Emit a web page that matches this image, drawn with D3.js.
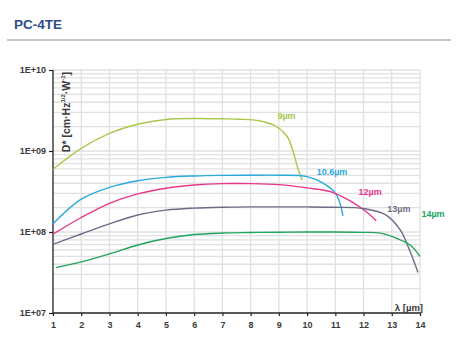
<!DOCTYPE html>
<html><head><meta charset="utf-8">
<script src="https://cdn.jsdelivr.net/npm/d3@7"></script>
<style>
html,body{margin:0;padding:0;background:#fff;}
svg{display:block;font-family:"Liberation Sans",Arial,sans-serif;}
</style></head>
<body>
<svg id="c" width="468" height="356"></svg>
<script>
const title = "PC-4TE";
const xTicks = [1,2,3,4,5,6,7,8,9,10,11,12,13,14];
const yTicks = [1e7, 1e8, 1e9, 1e10];
const yTickLabels = ["1E+07","1E+08","1E+09","1E+10"];
const seriesNames = ["9µm","10.6µm","12µm","13µm","14µm"];
const seriesColors = ["#a9c84c","#2aa9df","#e8378b","#6c6b86","#21a35d"];

const lam9  = [1, 2, 3, 4, 5, 6, 7, 7.6, 8.3, 8.9, 9.3, 9.5, 9.68, 9.82];
const d9    = [5.95e8, 1.08e9, 1.65e9, 2.14e9, 2.45e9, 2.52e9, 2.5e9, 2.47e9, 2.36e9, 2.02e9, 1.5e9, 1.0e9, 6.0e8, 4.4e8];
const lam106 = [1, 2, 3, 4, 5, 6, 7, 8, 9, 10, 10.58, 11, 11.17, 11.27];
const d106   = [1.26e8, 2.54e8, 3.56e8, 4.3e8, 4.73e8, 4.92e8, 5.0e8, 5.02e8, 5.02e8, 4.82e8, 3.98e8, 3.02e8, 2.24e8, 1.58e8];
const lam12 = [1, 2, 3, 4, 5, 6, 7, 8, 9, 10, 10.9, 11.6, 12.1, 12.45];
const d12   = [9.4e7, 1.51e8, 2.26e8, 2.95e8, 3.47e8, 3.8e8, 3.96e8, 3.96e8, 3.84e8, 3.5e8, 3.09e8, 2.34e8, 1.78e8, 1.38e8];
const lam13 = [1, 2, 3, 4, 5, 6, 7, 8, 9, 10, 11, 12, 12.8, 13.3, 13.65, 13.93];
const d13   = [7.05e7, 9.44e7, 1.26e8, 1.62e8, 1.86e8, 1.97e8, 2.02e8, 2.04e8, 2.04e8, 2.04e8, 2.02e8, 1.95e8, 1.62e8, 1.06e8, 5.75e7, 3.16e7];
const lam14 = [1.1, 2, 3, 4, 5, 6, 7, 8, 9, 10, 11, 12, 12.6, 13.2, 13.65, 14];
const d14   = [3.63e7, 4.27e7, 5.37e7, 6.92e7, 8.32e7, 9.3e7, 9.7e7, 9.85e7, 9.95e7, 1.0e8, 1.0e8, 9.9e7, 9.7e7, 8.3e7, 6.9e7, 5.0e7];

const lamSeries = [lam9, lam106, lam12, lam13, lam14];
const dSeries = [d9, d106, d12, d13, d14];
// label anchor in data coords (lambda, D*)
const labelLam = [8.95, 10.34, 11.82, 12.84, 14.05];
const labelD   = [2.5e9, 5.0e8, 2.9e8, 1.75e8, 1.55e8];

const svg = d3.select("#c");
const L = 53, R = 420, T = 70, B = 313;
const x = d3.scaleLinear().domain([1,14]).range([L,R]);
const y = d3.scaleLog().domain([1e7,1e10]).range([B,T]);

// title & rule
svg.append("text").attr("x",14).attr("y",28.5).text(title)
  .attr("font-size",13.5).attr("font-weight","bold").attr("fill","#2e4a8c");
svg.append("line").attr("x1",7).attr("x2",451).attr("y1",40).attr("y2",40)
  .attr("stroke","#c8c8c8").attr("stroke-width",2);

// grid
const g = svg.append("g");
const minor = [];
for (let e=7;e<10;e++) for (let m=2;m<=9;m++) minor.push(m*Math.pow(10,e));
g.selectAll("line.hm").data(minor.concat([1e8,1e9,1e10])).join("line")
  .attr("x1",L).attr("x2",R).attr("y1",d=>y(d)).attr("y2",d=>y(d))
  .attr("stroke","#e0e0e0").attr("stroke-width",1.3);
g.selectAll("line.v").data(xTicks.slice(1)).join("line")
  .attr("x1",d=>x(d)).attr("x2",d=>x(d)).attr("y1",T).attr("y2",B)
  .attr("stroke","#e0e0e0").attr("stroke-width",1.3);

// axes
const xAxis = d3.axisBottom(x).tickValues(xTicks).tickFormat(d3.format("d")).tickSize(3).tickPadding(6);
const yAxis = d3.axisLeft(y).tickValues(yTicks).tickFormat((d,i)=>yTickLabels[i]).tickSize(4).tickPadding(3);
const ax = svg.append("g").attr("transform",`translate(0,${B})`).call(xAxis);
const ay = svg.append("g").attr("transform",`translate(${L},0)`).call(yAxis);
[ax,ay].forEach(a=>{
  a.select(".domain").attr("stroke","#222").attr("stroke-width",1.3);
  a.selectAll(".tick line").attr("stroke","#222").attr("stroke-width",1.2);
  a.selectAll("text").attr("font-family","Liberation Sans, Arial, sans-serif")
    .attr("font-size",9).attr("font-weight","bold").attr("fill","#3a3a3a");
});
ax.select(".domain").attr("d",`M${L},0H${R}`);
ay.select(".domain").attr("d",`M0,${B}V${T}`);

// curves
const line = d3.line().x(d=>x(d[0])).y(d=>y(d[1])).curve(d3.curveCatmullRom.alpha(0.5));
seriesNames.forEach((n,i)=>{
  const pts = lamSeries[i].map((l,j)=>[l,dSeries[i][j]]);
  svg.append("path").attr("d",line(pts)).attr("fill","none")
    .attr("stroke",seriesColors[i]).attr("stroke-width",1.4);
  svg.append("text").attr("x",x(labelLam[i])).attr("y",y(labelD[i]))
    .attr("font-size",9).attr("font-weight","bold").attr("fill",seriesColors[i]).text(n);
});

// axis titles
svg.append("text").attr("x",423).attr("y",311).attr("text-anchor","end")
  .attr("font-size",9.5).attr("font-weight","bold").attr("fill","#3a3a3a").text("λ [µm]");
const yl = svg.append("text").attr("transform","translate(69.5,72) rotate(-90)")
  .attr("text-anchor","end").attr("font-size",10.5).attr("font-weight","bold").attr("fill","#3a3a3a");
yl.append("tspan").text("D* [cm·Hz");
yl.append("tspan").attr("dy",-4.5).attr("font-size",6).text("1/2");
yl.append("tspan").attr("dy",4.5).text("·W");
yl.append("tspan").attr("dy",-4.5).attr("font-size",6).text("-1");
yl.append("tspan").attr("dy",4.5).text("]");
</script>
</body></html>
